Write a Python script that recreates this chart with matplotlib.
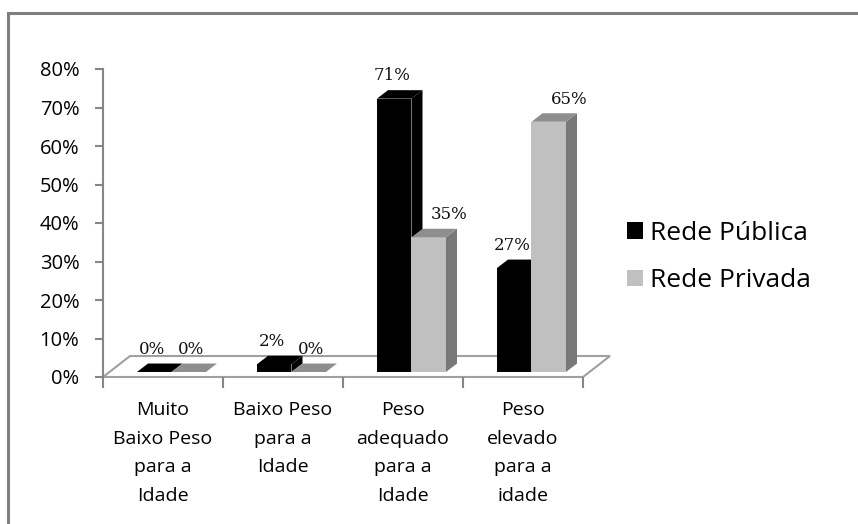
import matplotlib
matplotlib.use('Agg')
import matplotlib.pyplot as plt
from matplotlib.patches import Polygon, Patch, Rectangle
import numpy as np

categories = ['Muito\nBaixo Peso\npara a\nIdade', 'Baixo Peso\npara a\nIdade',
              'Peso\nadequado\npara a\nIdade', 'Peso\nelevado\npara a\nidade']
publica = [0, 2, 71, 27]
privada = [0, 0, 35, 65]
series_names = ['Rede Pública', 'Rede Privada']
yticks = [0, 10, 20, 30, 40, 50, 60, 70, 80]

# faces: front, top, side
black = ('#000000', '#000000', '#000000')
grey = ('#c0c0c0', '#8e8e8e', '#787878')
axis_grey = '#868686'

W, H = 858, 524
fig = plt.figure(figsize=(W / 100, H / 100), dpi=100)
ax = fig.add_axes([103 / W, (H - 377) / H, 480 / W, 308 / H])
ax.set_xlim(0, 4)
ax.set_ylim(0, 80)

# fake 3d geometry (data units)
floor_dx, floor_dy = 0.225, 5.45
base = 1.3
side_dx, side_dy = 0.092, 2.2
bar_w = 0.2875
first_off = 0.283

# floor
n = len(categories)
floor = Polygon([(0, 0), (n, 0), (n + floor_dx, floor_dy), (floor_dx, floor_dy)],
                closed=True, facecolor='white', edgecolor='#a0a0a0', lw=1.5,
                clip_on=False, zorder=1)
ax.add_patch(floor)

x = np.arange(n)


def draw_bars(xs, vals, cols):
    ax.bar(xs, vals, width=bar_w, bottom=base, align='edge', color=cols[0],
           zorder=3, clip_on=False)
    for x0, v in zip(xs, vals):
        y1 = base + v
        top = Polygon([(x0, y1), (x0 + bar_w, y1), (x0 + bar_w + side_dx, y1 + side_dy),
                       (x0 + side_dx, y1 + side_dy)], closed=True,
                      facecolor=cols[1], edgecolor='none', zorder=3, clip_on=False)
        side = Polygon([(x0 + bar_w, base), (x0 + bar_w, y1), (x0 + bar_w + side_dx, y1 + side_dy),
                        (x0 + bar_w + side_dx, base + side_dy)], closed=True,
                       facecolor=cols[2], edgecolor='none', zorder=3, clip_on=False)
        ax.add_patch(side)
        ax.add_patch(top)


x_pub = x + first_off
x_priv = x_pub + bar_w
draw_bars(x_pub, publica, black)
draw_bars(x_priv, privada, grey)

lab_font = dict(family='DejaVu Serif', fontsize=12, color='#111111',
                ha='center', va='center')
for x0, v in zip(x_pub, publica):
    ax.text(x0 + bar_w / 2 - 0.02, v + 7.2, f'{v}%', **lab_font)
for x0, v in zip(x_priv, privada):
    off = 0.17 if v > 0 else 0.02
    ax.text(x0 + bar_w / 2 + off, v + 7.2, f'{v}%', **lab_font)

# axes styling
for s in ['top', 'right']:
    ax.spines[s].set_visible(False)
ax.spines['left'].set_color(axis_grey)
ax.spines['left'].set_linewidth(1.5)
ax.spines['bottom'].set_visible(False)
ax.set_yticks(yticks)
ax.set_yticklabels([f'{t}%' for t in yticks], family='Open Sans', fontsize=14.5)
ax.tick_params(axis='y', length=6, width=1.5, color=axis_grey, pad=11)
ax.set_xticks(np.arange(n + 1))
ax.set_xticklabels([])
ax.tick_params(axis='x', which='major', length=8, width=1.5, color=axis_grey)
ax.set_xticks(x + 0.5, minor=True)
ax.set_xticklabels(categories, minor=True, family='Open Sans', fontsize=14,
                   linespacing=1.78)
ax.tick_params(axis='x', which='minor', length=0, pad=17)
ax.patch.set_visible(False)

handles = [Patch(facecolor=black[0]), Patch(facecolor=grey[0])]
fig.legend(handles, series_names, loc='center left',
           bbox_to_anchor=(627 / W, (H - 257) / H), frameon=False,
           prop={'family': 'Open Sans', 'size': 19}, handlelength=0.6,
           handleheight=0.6, handletextpad=0.27, labelspacing=0.85,
           borderpad=0, borderaxespad=0)

# outer chart border (cut by the image edges)
fig.patches.append(Rectangle((8 / W, -0.1), 1.0, (H - 13) / H + 0.1,
                             transform=fig.transFigure, fill=False,
                             edgecolor='#808080', lw=2.2))

fig.savefig('out.png', dpi=100)
